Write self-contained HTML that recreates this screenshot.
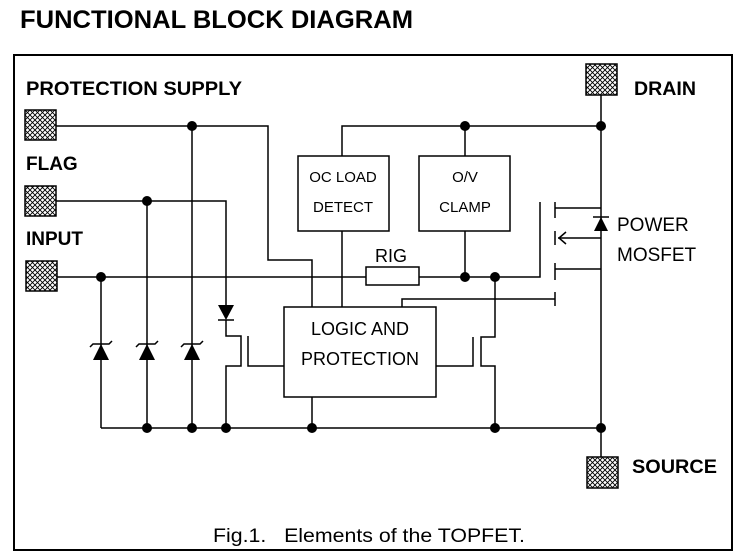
<!DOCTYPE html>
<html><head><style>html,body{margin:0;padding:0;background:#fff}svg{display:block}</style></head><body>
<svg width="738" height="558" viewBox="0 0 738 558" xmlns="http://www.w3.org/2000/svg" font-family="Liberation Sans, Arial, sans-serif">
<defs>
<pattern id="h" width="5" height="5" patternUnits="userSpaceOnUse">
<rect width="5" height="5" fill="#fff"/>
<path d="M0,0L5,5M5,0L0,5" stroke="#000" stroke-width="0.9"/>
</pattern>
</defs>
<text x="20" y="28" font-size="25" font-weight="bold" textLength="393" lengthAdjust="spacingAndGlyphs">FUNCTIONAL BLOCK DIAGRAM</text>
<rect x="14" y="55" width="718" height="495" fill="none" stroke="#000" stroke-width="2"/>
<g stroke="#000" stroke-width="1.5" fill="none">
<path d="M56,126H268V260H312V307"/>
<path d="M342,156V126H601"/>
<path d="M342,231V307"/>
<path d="M465,156V126"/>
<path d="M465,231V277"/>
<path d="M56,201H226V305"/>
<path d="M226,320V336H241V366H226V428"/>
<path d="M248,336V366H284"/>
<path d="M57,277H366"/>
<path d="M419,277H540V202"/>
<rect x="366" y="267" width="53" height="18"/>
<path d="M101,277V428"/>
<path d="M147,201V428"/>
<path d="M192,126V428"/>
<path d="M101,428H601"/>
<path d="M312,397V428"/>
<path d="M495,277V337H481V366H495V428"/>
<path d="M473,337V366H436"/>
<path d="M402,307V299H555"/>
<path d="M555,292V306"/>
<rect x="284" y="307" width="152" height="90"/>
<rect x="298" y="156" width="91" height="75"/>
<rect x="419" y="156" width="91" height="75"/>
<path d="M601,95V457"/>
<path d="M555,202V218M555,231V245M555,263V280"/>
<path d="M555,208H601M558,238H601M555,269H601"/>
<path d="M566,232L559,238L566,244"/>
<path d="M90,347L93,344H109L112,341"/>
<path d="M136,347L139,344H155L158,341"/>
<path d="M181,347L184,344H200L203,341"/>
<path d="M218,320H234"/>
<path d="M593,217H609"/>
</g>
<g fill="#000">
<polygon points="101,344 93,360 109,360"/>
<polygon points="147,344 139,360 155,360"/>
<polygon points="192,344 184,360 200,360"/>
<polygon points="218,305 234,305 226,320"/>
<polygon points="601,217 594,231 608,231"/>
<circle cx="192" cy="126" r="5"/>
<circle cx="465" cy="126" r="5"/>
<circle cx="601" cy="126" r="5"/>
<circle cx="147" cy="201" r="5"/>
<circle cx="101" cy="277" r="5"/>
<circle cx="465" cy="277" r="5"/>
<circle cx="495" cy="277" r="5"/>
<circle cx="147" cy="428" r="5"/>
<circle cx="192" cy="428" r="5"/>
<circle cx="226" cy="428" r="5"/>
<circle cx="312" cy="428" r="5"/>
<circle cx="495" cy="428" r="5"/>
<circle cx="601" cy="428" r="5"/>
</g>
<g fill="url(#h)" stroke="#000" stroke-width="1.5">
<rect x="25" y="110" width="31" height="30"/>
<rect x="25" y="186" width="31" height="30"/>
<rect x="26" y="261" width="31" height="30"/>
<rect x="586" y="64" width="31" height="31"/>
<rect x="587" y="457" width="31" height="31"/>
</g>
<g font-size="19" font-weight="bold">
<text x="26" y="95" textLength="216" lengthAdjust="spacingAndGlyphs">PROTECTION SUPPLY</text>
<text x="26" y="170">FLAG</text>
<text x="26" y="245">INPUT</text>
<text x="634" y="95" textLength="62" lengthAdjust="spacingAndGlyphs">DRAIN</text>
<text x="632" y="473" textLength="85" lengthAdjust="spacingAndGlyphs">SOURCE</text>
</g>
<g font-size="15" text-anchor="middle">
<text x="343" y="182">OC LOAD</text>
<text x="343" y="212">DETECT</text>
<text x="465" y="182">O/V</text>
<text x="465" y="212">CLAMP</text>
</g>
<g font-size="18">
<text x="391" y="262" text-anchor="middle">RIG</text>
<text x="360" y="335" text-anchor="middle">LOGIC AND</text>
<text x="360" y="365" text-anchor="middle">PROTECTION</text>
<text x="617" y="231" font-size="19">POWER</text>
<text x="617" y="261" font-size="19">MOSFET</text>
<text x="213" y="542" font-size="19" textLength="312" lengthAdjust="spacingAndGlyphs" xml:space="preserve">Fig.1.   Elements of the TOPFET.</text>
</g>
</svg>
</body></html>
